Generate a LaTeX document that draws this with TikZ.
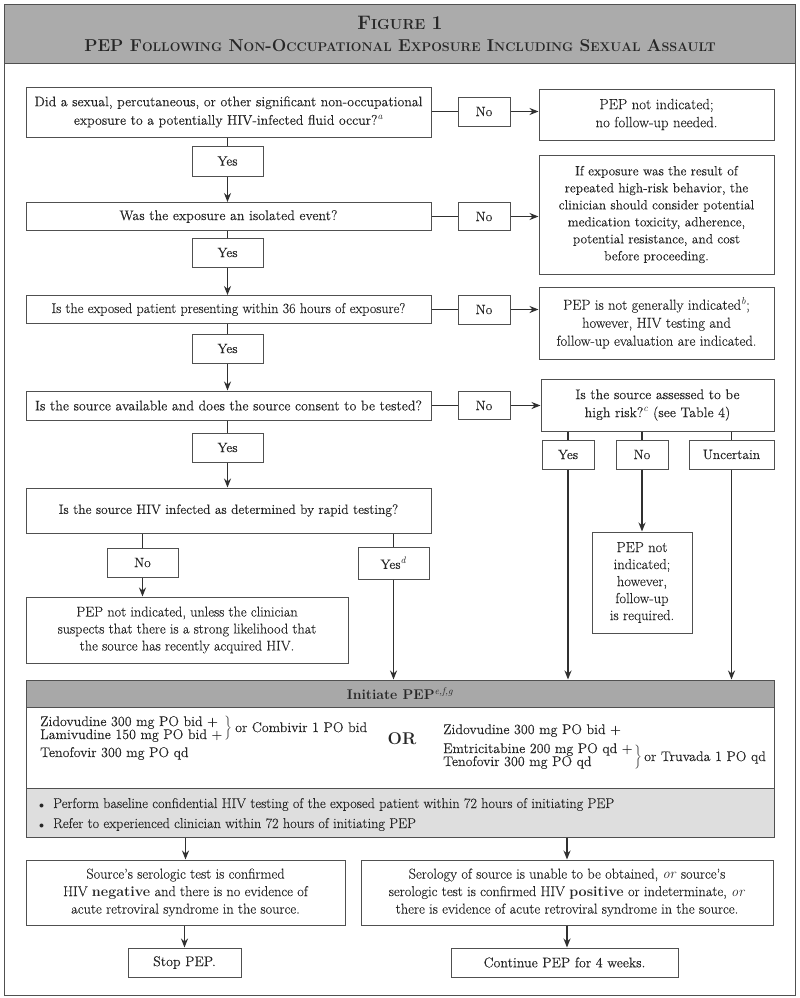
\documentclass[tikz,border=0pt]{standalone}
\usepackage{fontspec}
\setmainfont{Latin Modern Roman}[UprightFeatures={FakeBold=0.1}]
\usetikzlibrary{arrows.meta}
\definecolor{bord}{HTML}{505050}
\definecolor{conn}{HTML}{303030}
\definecolor{txt}{HTML}{262626}
\definecolor{titlegray}{HTML}{ABABAB}
\definecolor{headgray}{HTML}{A8A8A8}
\definecolor{lightgray}{HTML}{DEDEDE}
\newcommand{\BC}[1]{{\fontsize{17.2}{22}\selectfont #1}}
\newcommand{\SC}[1]{{\fontsize{12.6}{22}\selectfont #1}}
\newcommand{\BCa}[1]{{\fontsize{19.5}{22}\selectfont #1}}
\newcommand{\SCa}[1]{{\fontsize{14.5}{22}\selectfont #1}}
\newcommand{\sups}[1]{\textsuperscript{\textit{#1}}}
\newcommand{\bulletmark}{{\fontsize{10}{10}\selectfont$\bullet$}}
\begin{document}
\begin{tikzpicture}[x=1pt,y=-1pt,
  box/.style={draw=bord, line width=1pt, fill=white, align=center, inner sep=0pt, text=txt, font=\fontsize{14}{18}\selectfont},
  lbl/.style={box, font=\fontsize{13.6}{16}\selectfont},
  line/.style={draw=conn, line width=1.5pt},
  arr/.style={line, -{Stealth[length=9pt,width=7pt]}},
  drug/.style={inner sep=0pt, text=txt, font=\fontsize{14}{14}\selectfont, anchor=base west},
  brc/.style={inner sep=0pt, text=txt, font=\fontsize{14}{14}\selectfont}
]
\useasboundingbox (0,0) rectangle (800,998);
\fill[white] (0,0) rectangle (800,998);
% frame and title
\node[draw=bord, line width=1pt, minimum width=791pt, minimum height=991pt, anchor=north west, inner sep=0pt] (frame) at (4,4) {};
\node[draw=bord, fill=titlegray, line width=1pt, minimum width=791pt, minimum height=59pt, anchor=north west, inner sep=0pt, align=center, text=txt, font=\bfseries\fontsize{17}{22}\selectfont] (title) at (4,4)
  {\BCa{F}\SCa{IGURE} \BCa{1}\\
   \BC{PEP F}\SC{OLLOWING} \BC{N}\SC{ON}-\BC{O}\SC{CCUPATIONAL} \BC{E}\SC{XPOSURE} \BC{I}\SC{NCLUDING} \BC{S}\SC{EXUAL} \BC{A}\SC{SSAULT}};

% row 1
\node[box, minimum width=405pt, minimum height=50pt, font=\fontsize{13.9}{18.5}\selectfont] (q1) at (228.5,112)
  {Did a sexual, percutaneous, or other significant non-occupational\\ exposure to a potentially HIV-infected fluid occur?\sups{a}};
\node[lbl, minimum width=52pt, minimum height=29pt] (no1) at (484,111.5) {No};
\node[box, minimum width=235pt, minimum height=51pt, font=\fontsize{14.8}{18}\selectfont] (r1) at (656.5,114.5) {PEP not indicated;\\ no follow-up needed.};
\node[lbl, minimum width=71pt, minimum height=30pt] (yes1) at (227.5,161) {Yes};

% row 2
\node[box, minimum width=405pt, minimum height=28pt] (q2) at (228.5,216.5) {Was the exposure an isolated event?};
\node[lbl, minimum width=52pt, minimum height=28pt] (no2) at (484,216.5) {No};
\node[box, minimum width=235pt, minimum height=119pt, font=\fontsize{13.4}{17}\selectfont] (r2) at (656.5,214.5)
  {If exposure was the result of\\ repeated high-risk behavior, the\\ clinician should consider potential\\ medication toxicity, adherence,\\ potential resistance, and cost\\ before proceeding.};
\node[lbl, minimum width=71pt, minimum height=29pt] (yes2) at (227.5,252.5) {Yes};

% row 3
\node[box, minimum width=405pt, minimum height=28pt, font=\fontsize{14.1}{18}\selectfont] (q3) at (228.5,309.5) {Is the exposed patient presenting within 36 hours of exposure?};
\node[lbl, minimum width=52pt, minimum height=29pt] (no3) at (484,309.5) {No};
\node[box, minimum width=235pt, minimum height=72pt, font=\fontsize{14.5}{18}\selectfont] (r3) at (656.5,323)
  {PEP is not generally indicated\sups{b};\\ however, HIV testing and\\ follow-up evaluation are indicated.};
\node[lbl, minimum width=71pt, minimum height=29pt] (yes3) at (227.5,348.5) {Yes};

% row 4
\node[box, minimum width=405pt, minimum height=29pt] (q4) at (228.5,405.5) {Is the source available and does the source consent to be tested?};
\node[lbl, minimum width=52pt, minimum height=28pt] (no4) at (484,405.5) {No};
\node[box, minimum width=233pt, minimum height=52pt] (r4) at (657.5,405) {Is the source assessed to be\\ high risk?\sups{c} (see Table 4)};
\node[lbl, minimum width=52pt, minimum height=29pt] (y4a) at (568,454.5) {Yes};
\node[lbl, minimum width=52pt, minimum height=29pt] (n4b) at (642,454.5) {No};
\node[lbl, minimum width=85pt, minimum height=29pt] (u4c) at (731.5,454.5) {Uncertain};
\node[box, minimum width=100pt, minimum height=101pt, font=\fontsize{14.5}{17}\selectfont] (r4b) at (642,582.5) {PEP not\\ indicated;\\ however,\\ follow-up\\ is required.};
\node[lbl, minimum width=71pt, minimum height=29pt] (yes4) at (227.5,447.5) {Yes};

% row 5
\node[box, minimum width=405pt, minimum height=45pt, font=\fontsize{13.5}{18}\selectfont] (q5) at (228.5,510.5) {Is the source HIV infected as determined by rapid testing?};
\node[lbl, minimum width=71pt, minimum height=29pt] (no5) at (142.5,562.5) {No};
\node[lbl, minimum width=71pt, minimum height=32pt] (yes5) at (393.5,563) {Yes\sups{d}};
\node[box, minimum width=322pt, minimum height=66pt, font=\fontsize{14.2}{17}\selectfont] (r5) at (187,630)
  {PEP not indicated, unless the clinician\\ suspects that there is a strong likelihood that\\ the source has recently acquired HIV.};

% initiate PEP block
\node[box, fill=headgray, minimum width=748pt, minimum height=27pt, font=\bfseries\fontsize{14}{15}\selectfont] (head) at (400,693.5) {Initiate PEP\textsuperscript{\mdseries\itshape e,f,g}};
\node[box, minimum width=748pt, minimum height=81pt] (drugs) at (400,747.5) {};
\node[box, fill=lightgray, minimum width=748pt, minimum height=49pt] (bul) at (400,812.5) {};

\node[drug] (d1) at (40,726) {Zidovudine 300 mg PO bid +};
\node[drug] (d2) at (40,739) {Lamivudine 150 mg PO bid +};
\node[brc] (br1) at (228,728.5) {$\bigg\}$};
\node[drug] (comb) at (235,732) {or Combivir 1 PO bid};
\node[drug] (d3) at (40,757) {Tenofovir 300 mg PO qd};
\node[drug, anchor=base, font=\bfseries\fontsize{17}{17}\selectfont] (or) at (402,744) {OR};
\node[drug] (e1) at (443,734) {Zidovudine 300 mg PO bid +};
\node[drug] (e2) at (443,753) {Emtricitabine 200 mg PO qd +};
\node[drug] (e3) at (443,766) {Tenofovir 300 mg PO qd};
\node[brc] (br2) at (638,757) {$\bigg\}$};
\node[drug] (truv) at (644,761) {or Truvada 1 PO qd};

\node[drug, font=\fontsize{14.2}{14.2}\selectfont] (b1) at (39,808) {\bulletmark\hspace{9pt}Perform baseline confidential HIV testing of the exposed patient within 72 hours of initiating PEP};
\node[drug, font=\fontsize{14.2}{14.2}\selectfont] (b2) at (39,828) {\bulletmark\hspace{9pt}Refer to experienced clinician within 72 hours of initiating PEP};

% outcome boxes
\node[box, minimum width=319pt, minimum height=65pt, font=\fontsize{14.3}{17.5}\selectfont] (s1) at (185.5,892.5)
  {Source’s serologic test is confirmed\\ HIV \textbf{negative} and there is no evidence of\\ acute retroviral syndrome in the source.};
\node[box, minimum width=412pt, minimum height=65pt, font=\fontsize{14.3}{17.5}\selectfont] (s2) at (567,892.5)
  {Serology of source is unable to be obtained, \textit{or} source’s\\ serologic test is confirmed HIV \textbf{positive} or indeterminate, \textit{or}\\ there is evidence of acute retroviral syndrome in the source.};
\node[box, minimum width=113pt, minimum height=29pt] (stop) at (184.5,962.5) {Stop PEP.};
\node[box, minimum width=227pt, minimum height=29pt] (cont) at (564.5,962.5) {Continue PEP for 4 weeks.};

% connectors: main column
\draw[line] (yes1.north |- q1.south) -- (yes1.north);
\draw[arr] (yes1.south) -- (yes1.south |- q2.north);
\draw[line] (yes2.north |- q2.south) -- (yes2.north);
\draw[arr] (yes2.south) -- (yes2.south |- q3.north);
\draw[line] (yes3.north |- q3.south) -- (yes3.north);
\draw[arr] (yes3.south) -- (yes3.south |- q4.north);
\draw[line] (yes4.north |- q4.south) -- (yes4.north);
\draw[arr] (yes4.south) -- (yes4.south |- q5.north);
% No branches
\draw[line] (q1.east |- no1.west) -- (no1.west);
\draw[arr] (no1.east) -- (no1.east -| r1.west);
\draw[line] (q2.east |- no2.west) -- (no2.west);
\draw[arr] (no2.east) -- (no2.east -| r2.west);
\draw[line] (q3.east |- no3.west) -- (no3.west);
\draw[arr] (no3.east) -- (no3.east -| r3.west);
\draw[line] (q4.east |- no4.west) -- (no4.west);
\draw[arr] (no4.east) -- (no4.east -| r4.west);
% high risk branches
\draw[line] (y4a.north |- r4.south) -- (y4a.north);
\draw[line] (n4b.north |- r4.south) -- (n4b.north);
\draw[line] (u4c.north |- r4.south) -- (u4c.north);
\draw[arr] (y4a.south) -- (y4a.south |- head.north);
\draw[arr] (n4b.south) -- (r4b.north);
\draw[arr] (u4c.south) -- (u4c.south |- head.north);
% rapid testing
\draw[line] (no5.north |- q5.south) -- (no5.north);
\draw[arr] (no5.south) -- (no5.south |- r5.north);
\draw[line] (yes5.north |- q5.south) -- (yes5.north);
\draw[arr] (yes5.south) -- (yes5.south |- head.north);
% outcomes
\draw[arr] (s1.north |- bul.south) -- (s1.north);
\draw[arr] (s2.north |- bul.south) -- (s2.north);
\draw[arr] (stop.north |- s1.south) -- (stop.north);
\draw[arr] (s2.south) -- (s2.south |- cont.north);
\end{tikzpicture}
\end{document}
